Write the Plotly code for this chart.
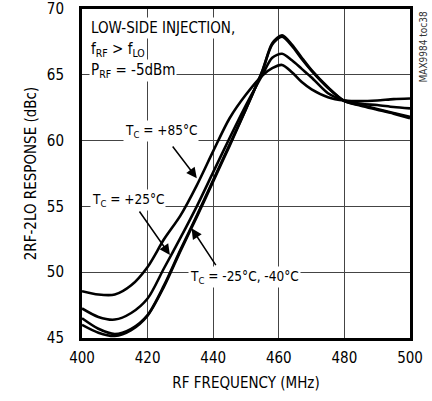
import plotly.graph_objects as go

freq = [400, 405, 410, 415, 420, 425, 430, 435, 440, 445, 450, 455, 458, 461, 464, 467, 470, 475, 480, 485, 490, 495, 500]
t_p85 = [48.55, 48.3, 48.3, 49.0, 50.4, 52.5, 54.3, 56.6, 59.2, 61.7, 63.5, 64.95, 65.5, 65.75, 65.2, 64.45, 63.9, 63.3, 63.05, 63.0, 63.05, 63.15, 63.2]
t_p25 = [47.25, 46.6, 46.4, 46.9, 48.0, 50.3, 52.6, 55.0, 57.6, 60.2, 62.7, 65.0, 66.3, 66.6, 66.1, 65.45, 64.8, 63.6, 63.05, 62.8, 62.7, 62.55, 62.45]
t_m25 = [46.5, 45.7, 45.3, 45.7, 46.75, 49.0, 51.7, 54.3, 57.0, 59.7, 62.4, 65.3, 67.3, 67.9, 67.2, 66.2, 65.3, 64.0, 63.0, 62.7, 62.4, 62.1, 61.8]
t_m40 = [46.0, 45.4, 45.15, 45.6, 46.7, 48.9, 51.6, 54.2, 56.9, 59.6, 62.4, 65.3, 67.4, 68.0, 67.3, 66.3, 65.35, 64.05, 63.0, 62.65, 62.35, 62.05, 61.7]

x_ticks = [400, 420, 440, 460, 480, 500]
y_ticks = [45, 50, 55, 60, 65, 70]

FONT = "Liberation Sans Narrow, Arial Narrow, DejaVu Sans Condensed, sans-serif"

fig = go.Figure()
for ys in [t_p85, t_p25, t_m25, t_m40]:
    fig.add_trace(go.Scatter(x=freq, y=ys, mode="lines",
                             line=dict(color="black", width=2.6, shape="spline", smoothing=0.8),
                             showlegend=False, hoverinfo="skip"))

ann = []
def txt(x, y, s, xanchor="left", size=15):
    ann.append(dict(x=x, y=y, xref="x", yref="y", text=s, showarrow=False,
                    xanchor=xanchor, yanchor="middle", bgcolor="white",
                    font=dict(family=FONT, size=size, color="black"), borderpad=1))

txt(402.1, 68.56, "LOW-SIDE INJECTION,")
txt(402.1, 66.96, "f<sub>RF</sub> > f<sub>LO</sub>")
txt(402.1, 65.36, "P<sub>RF</sub> = -5dBm")
txt(424.1, 60.73, "T<sub>C</sub> = +85°C", "center", 13.5)
txt(413.9, 55.49, "T<sub>C</sub> = +25°C", "center", 13.5)
txt(432.3, 49.6, "T<sub>C</sub> = -25°C, -40°C", "left", 13.5)

def arrow(x0, y0, x1, y1):
    ann.append(dict(x=x1, y=y1, ax=x0, ay=y0, xref="x", yref="y", axref="x", ayref="y",
                    text="", showarrow=True, arrowhead=2, arrowsize=1.4, arrowwidth=1.5,
                    arrowcolor="black", standoff=0, startstandoff=0))

arrow(427.3, 59.67, 435.0, 57.14)
arrow(417.2, 54.73, 426.8, 51.31)
arrow(441.1, 50.42, 433.4, 53.34)

ann.append(dict(x=1.0, y=1.0, xref="paper", yref="paper", text="MAX9984 toc38",
                showarrow=False, textangle=-90, xanchor="left", yanchor="top", xshift=5,
                font=dict(family=FONT, size=10, color="#333")))

fig.update_layout(
    width=432, height=401,
    margin=dict(l=82, r=22, t=9, b=63),
    paper_bgcolor="white", plot_bgcolor="white",
    annotations=ann,
    font=dict(family=FONT, size=15, color="black"),
)
fig.update_xaxes(range=[400, 500], tickvals=x_ticks, ticktext=[str(v) for v in x_ticks],
                 showgrid=True, gridcolor="#444", gridwidth=1,
                 showline=True, linecolor="black", linewidth=3, mirror=True,
                 ticks="", zeroline=False, ticklabelstandoff=4, automargin=False,
                 title=dict(text="RF FREQUENCY (MHz)", font=dict(family=FONT, size=15), standoff=12))
fig.update_yaxes(range=[45, 70], tickvals=y_ticks, ticktext=[str(v) for v in y_ticks],
                 showgrid=True, gridcolor="#444", gridwidth=1,
                 showline=True, linecolor="black", linewidth=3, mirror=True,
                 ticks="", zeroline=False, ticklabelstandoff=12, automargin=False,
                 title=dict(text="2RF-2LO RESPONSE (dBc)", font=dict(family=FONT, size=15), standoff=7))

fig.write_html("out.html", config={"displayModeBar": False, "staticPlot": True},
               post_script="document.body.style.margin='0';document.body.style.overflow='hidden';")
